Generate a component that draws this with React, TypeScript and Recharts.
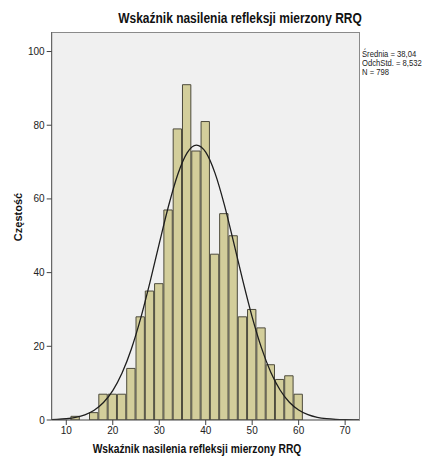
import React from "react";
import {
  ComposedChart,
  Bar,
  Line,
  XAxis,
  YAxis,
  CartesianGrid,
} from "recharts";

// Histogram bins (bin centres, width 2) and frequencies
const binCenters = [12, 14, 16, 18, 20, 22, 24, 26, 28, 30, 32, 34, 36, 38, 40, 42, 44, 46, 48, 50, 52, 54, 56, 58, 60];
const counts = [1, 0, 2, 7, 7, 7, 14, 28, 35, 37, 57, 79, 91, 73, 81, 45, 56, 50, 28, 30, 25, 15, 11, 12, 7];

// Normal curve (x positions and heights)
const curveX = [6, 8, 10, 12, 14, 16, 18, 20, 22, 24, 26, 28, 30, 32, 34, 36, 38, 40, 42, 44, 46, 48, 50, 52, 54, 56, 58, 60, 62, 64, 66, 68, 70, 72, 74];
const curveY = [0.07, 0.15, 0.34, 0.71, 1.41, 2.65, 4.73, 7.98, 12.75, 19.27, 27.57, 37.34, 47.87, 58.08, 66.71, 72.52, 74.62, 72.68, 67.0, 58.47, 48.29, 37.75, 27.94, 19.57, 12.97, 8.14, 4.83, 2.72, 1.45, 0.73, 0.35, 0.16, 0.07, 0.03, 0.01];

const xTicks = [10, 20, 30, 40, 50, 60, 70];
const yTicks = [0, 20, 40, 60, 80, 100];

const title = "Wskaźnik nasilenia refleksji mierzony RRQ";
const xLabel = "Wskaźnik nasilenia refleksji mierzony RRQ";
const yLabel = "Częstość";
const stats = ["Średnia = 38,04", "OdchStd. = 8,532", "N = 798"];

const X_DOMAIN: [number, number] = [6.86, 73.2];
const Y_DOMAIN: [number, number] = [0, 105.3];

const W = 429;
const H = 464;
const PLOT_LEFT = 51.7;
const PLOT_TOP = 32;
const PLOT_RIGHT = 360;
const PLOT_BOTTOM = 420;
const Y_AXIS_W = 40;

const plotW = PLOT_RIGHT - PLOT_LEFT;
const barPx = (2 * plotW) / (X_DOMAIN[1] - X_DOMAIN[0]);

const data = curveX.map((x) => {
  const i = binCenters.indexOf(x);
  return {
    x,
    curve: curveY[curveX.indexOf(x)],
    count: i >= 0 ? counts[i] : undefined,
  };
});

const regular = '"Liberation Sans", Arial, sans-serif';

export default function App() {
  return (
    <div style={{ position: "absolute", left: 0, top: 0, width: W, height: H, background: "#fff" }}>
      <ComposedChart
        width={W}
        height={H}
        data={data}
        margin={{ top: PLOT_TOP, left: PLOT_LEFT - Y_AXIS_W, right: W - PLOT_RIGHT, bottom: 0 }}
      >
        <CartesianGrid fill="#f0f0f0" horizontal={false} vertical={false} />
        <XAxis
          dataKey="x"
          type="number"
          domain={X_DOMAIN}
          allowDataOverflow
          ticks={xTicks}
          height={H - PLOT_BOTTOM}
          tickSize={5}
          tick={{ fontSize: 10, fontFamily: regular, fill: "#222" }}
          stroke="#444"
          interval={0}
        />
        <YAxis
          type="number"
          domain={Y_DOMAIN}
          allowDataOverflow
          ticks={yTicks}
          width={Y_AXIS_W}
          tickSize={5}
          tick={{ fontSize: 10, fontFamily: regular, fill: "#222" }}
          stroke="#444"
          interval={0}
        />
        <Bar
          dataKey="count"
          barSize={barPx}
          fill="#d3ce9b"
          stroke="#4d4b3c"
          strokeWidth={1}
          isAnimationActive={false}
        />
        <Line
          dataKey="curve"
          type="monotone"
          dot={false}
          stroke="#1e1e1e"
          strokeWidth={1.3}
          isAnimationActive={false}
        />
      </ComposedChart>
      <div
        style={{
          position: "absolute",
          left: PLOT_LEFT,
          top: PLOT_TOP,
          width: plotW,
          height: PLOT_BOTTOM - PLOT_TOP,
          boxSizing: "border-box",
          borderTop: "1px solid #8a8a8a",
          borderRight: "1px solid #8a8a8a",
          pointerEvents: "none",
        }}
      />
      <div
        style={{
          position: "absolute",
          left: 240,
          top: 10,
          transform: "translateX(-50%) scaleX(0.855)",
          fontFamily: regular,
          fontWeight: "bold",
          fontSize: 14,
          color: "#111",
          whiteSpace: "nowrap",
          lineHeight: "16px",
        }}
      >
        {title}
      </div>
      <div
        style={{
          position: "absolute",
          left: 197,
          top: 442,
          transform: "translateX(-50%) scaleX(0.855)",
          fontFamily: regular,
          fontWeight: "bold",
          fontSize: 12,
          color: "#111",
          whiteSpace: "nowrap",
          lineHeight: "14px",
        }}
      >
        {xLabel}
      </div>
      <div
        style={{
          position: "absolute",
          left: 18,
          top: 217,
          transform: "translate(-50%, -50%) rotate(-90deg)",
          fontFamily: regular,
          fontWeight: "bold",
          fontSize: 11,
          color: "#111",
          whiteSpace: "nowrap",
          lineHeight: "12px",
        }}
      >
        {yLabel}
      </div>
      <div
        style={{
          position: "absolute",
          left: 362,
          top: 50,
          transform: "scaleX(0.85)",
          transformOrigin: "left top",
          fontFamily: regular,
          fontSize: 9,
          color: "#222",
          lineHeight: "9px",
          whiteSpace: "nowrap",
        }}
      >
        {stats.map((s) => (
          <div key={s}>{s}</div>
        ))}
      </div>
    </div>
  );
}
